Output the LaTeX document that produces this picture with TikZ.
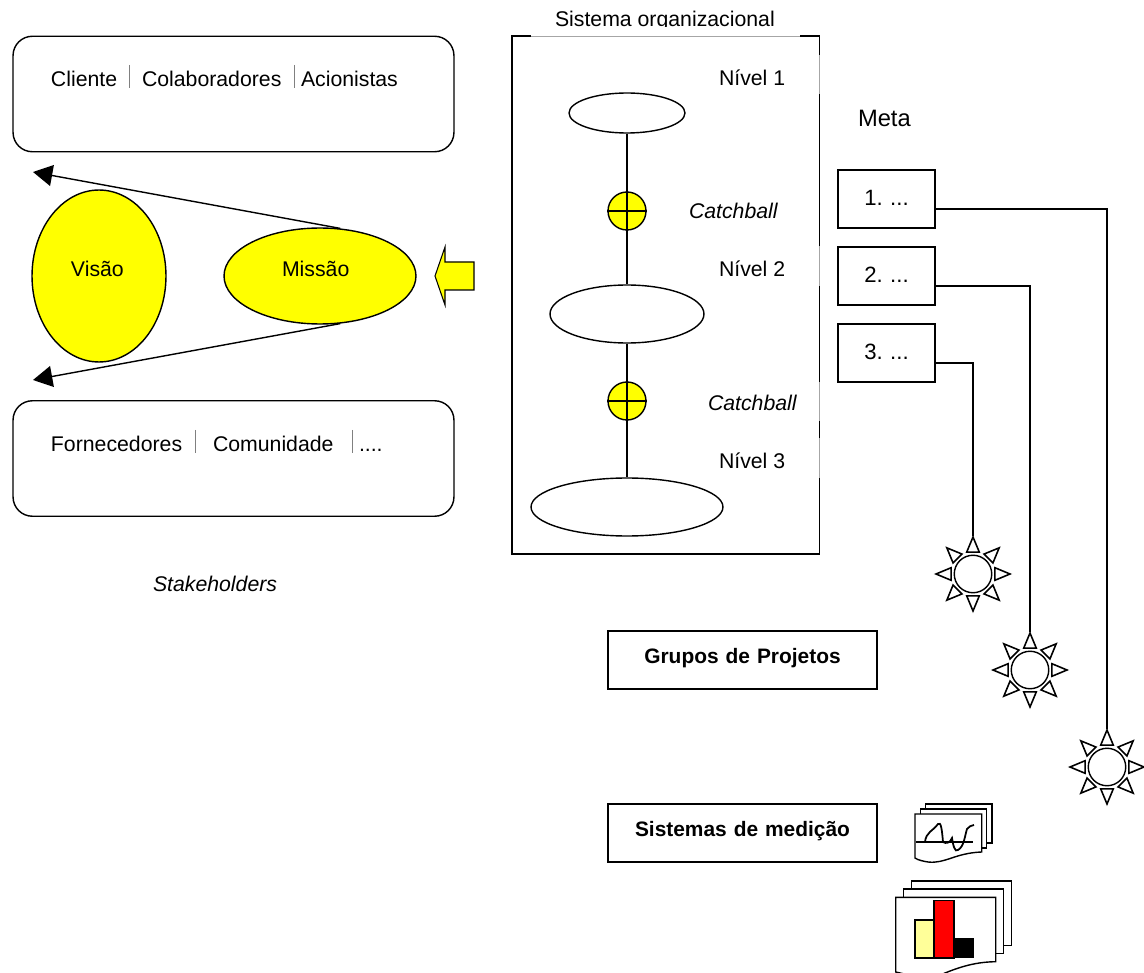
\documentclass[tikz,border=0pt]{standalone}
\usepackage{fontspec}
\setmainfont{Liberation Sans}
\usepackage{tikz}
\usetikzlibrary{arrows.meta,shapes.geometric}

\definecolor{sunyellow}{RGB}{255,255,0}
\definecolor{barred}{RGB}{255,0,0}
\definecolor{barpale}{RGB}{255,255,153}

\tikzset{
  lbl/.style={font=\fontsize{12.1}{14}\selectfont, inner sep=0pt, anchor=base west, xshift=-0.4pt, yshift=-0.15pt},
  lblit/.style={lbl, font=\fontsize{12.1}{14}\selectfont\itshape},
  stakebox/.style={draw, rectangle, rounded corners=11pt, minimum width=8.82cm, minimum height=2.31cm, inner sep=0pt},
  levelell/.style={draw, fill=white, ellipse, inner sep=0pt},
  yellowell/.style={draw, fill=sunyellow, ellipse, inner sep=0pt},
  metabox/.style={draw, rectangle, inner sep=0pt, text width=1.94cm, align=center, text height=19.9pt, text depth=13pt,
    font=\fontsize{12.6}{14}\selectfont},
  groupbox/.style={draw, rectangle, inner sep=0pt, text width=5.38cm, align=center, text height=18.3pt, text depth=14.5pt,
    font=\fontsize{11.9}{14}\selectfont\bfseries},
  sepline/.style={gray, line width=0.5pt},
  bigtip/.style={-{Triangle[length=11pt,width=12pt]}},
}

\begin{document}
\frenchspacing
\begin{tikzpicture}[x=0.02cm, y=-0.02cm, line width=0.8pt]
  \path[use as bounding box, clip] (0,0) rectangle (1144,973);

  % stakeholders
  \node[stakebox] (stakeTop) at (233.5,94) {};
  \node[stakebox] (stakeBot) at (233.5,458.5) {};
  \node[lbl] (cliente) at (51,86) {Cliente};
  \node[lbl] (colab) at (142,86) {Colaboradores};
  \node[lbl] (acion) at (301,86) {Acionistas};
  \node[lbl] (fornec) at (51,451) {Fornecedores};
  \node[lbl] (comun) at (213,451) {Comunidade};
  \node[lbl] (etc) at (359,451) {....};
  \foreach \sx/\sy in {129.5/65,294/65,195/430,352/430} {
    \draw[sepline] (\sx,\sy) -- (\sx,\sy+23);
  }
  \node[lblit] (stake) at (153,591) {Stakeholders};

  % vision and mission
  \node[yellowell, minimum width=2.68cm, minimum height=3.44cm] (visao) at (99,276) {};
  \node[yellowell, minimum width=3.84cm, minimum height=1.92cm] (missao) at (320,276) {};
  \node[lbl] (visaoLbl) at (71,276.5) {Visão};
  \node[lbl] (missaoLbl) at (282,276.5) {Missão};
  \coordinate (tipTop) at (33,172);
  \coordinate (tipBot) at (33,380);
  \draw[bigtip] (missao.67) -- (tipTop);
  \draw[bigtip] (missao.-67) -- (tipBot);
  \draw[fill=sunyellow, line width=0.6pt] (474,262) -- (445,262) -- (445,247) -- (435,276)
    -- (445,305) -- (445,290) -- (474,290) -- cycle;

  % system frame
  \node[lbl] (sistema) at (555,26.5) {Sistema organizacional};
  \fill[white] (540,27) rectangle (800,35);
  \node[draw, rectangle, inner sep=0pt, minimum width=6.15cm, minimum height=10.36cm] (frame) at (665.75,295) {};
  \draw[white, line width=1.2pt] (531,36) -- (800,36);
  \draw[gray!70, line width=0.4pt] (531,36) -- (800,36);
  % gaps left in the right edge
  \foreach \ya/\yb in {55/94,246/286,382/421,438/478} {
    \draw[white, line width=1.2pt] (819.5,\ya) -- (819.5,\yb);
    \draw[gray!70, line width=0.4pt] (819.5,\ya) -- (819.5,\yb);
  }

  % levels and catchball
  \node[levelell, minimum width=2.32cm, minimum height=0.8cm] (nivelA) at (627,113) {};
  \node[levelell, minimum width=3.08cm, minimum height=1.16cm] (nivelB) at (627,314) {};
  \node[levelell, minimum width=3.84cm, minimum height=1.16cm] (nivelC) at (627,507) {};
  \draw (nivelA) -- (nivelB);
  \draw (nivelB) -- (nivelC);
  \foreach \name/\cy in {ballA/211,ballB/401} {
    \node[draw, fill=sunyellow, circle, inner sep=0pt, minimum size=0.76cm] (\name) at (627,\cy) {};
    \draw (\name.north) -- (\name.south);
    \draw (\name.west) -- (\name.east);
  }
  \node[lbl] (lblA) at (719,85) {Nível 1};
  \node[lbl] (lblB) at (719,276) {Nível 2};
  \node[lbl] (lblC) at (719,468) {Nível 3};
  \node[lblit] (catchA) at (689,218) {Catchball};
  \node[lblit] (catchB) at (708,410.5) {Catchball};

  % goals
  \node[lbl, font=\fontsize{13.5}{16}\selectfont] (meta) at (858,126) {Meta};
  \node[metabox] (metaA) at (886.5,199) {1. ...};
  \node[metabox] (metaB) at (886.5,276) {2. ...};
  \node[metabox] (metaC) at (886.5,353) {3. ...};
  \coordinate (metaAout) at (935,209);
  \coordinate (metaBout) at (935,286);
  \coordinate (metaCout) at (935,363);

  % project suns
  \foreach \name/\sx/\sy in {sunC/973/574,sunB/1030/670,sunA/1107/767} {
    \node[draw, circle, inner sep=0pt, minimum size=0.75cm] (\name) at (\sx,\sy) {};
    \coordinate (\name top) at ([shift={(\sx,\sy)}]-90:38);
    \foreach \a in {0,45,...,315} {
      \draw[line width=0.9pt, line join=miter] ([shift={(\sx,\sy)}]\a:37) -- ([shift={(\sx,\sy)}]\a+16:22.8)
        -- ([shift={(\sx,\sy)}]\a-16:22.8) -- cycle;
    }
  }
  \draw (metaAout) -| (sunAtop);
  \draw (metaBout) -| (sunBtop);
  \draw (metaCout) -| (sunCtop);

  % group boxes
  \node[groupbox] (grupos) at (742.5,660) {Grupos de Projetos};
  \node[groupbox] (medicao) at (742.5,833) {Sistemas de medição};

  % small chart sheets
  \foreach \ox/\oy in {925.7/804,920.3/809} {
    \draw[fill=white] (\ox,\oy) rectangle (\ox+66.3,\oy+39);
  }
  \draw[fill=white] (915,814) -- (981.7,814) -- (981.7,852)
    .. controls (955,853) and (945,864) .. (928,862)
    .. controls (922,861) and (918,860) .. (915,858) -- cycle;
  \draw (916,842) -- (973,842);
  \draw[line width=1pt] (925,842) .. controls (926,832) and (933,831) .. (938,824)
    .. controls (941,821) and (942,830) .. (943,842)
    .. controls (946,844) and (950,843) .. (952,838)
    .. controls (953,845) and (955,853) .. (958,850)
    .. controls (964,847) and (965,835) .. (967,829)
    .. controls (969,826) and (971,826) .. (974,825);

  % big chart sheets
  \foreach \ox/\oy in {911.7/881,903.7/889} {
    \draw[fill=white] (\ox,\oy) rectangle (\ox+100,\oy+64.7);
  }
  \draw[fill=white] (895.7,897.3) -- (995.7,897.3) -- (995.7,961.7)
    .. controls (975,962) and (960,967) .. (945,973) -- (930,980) -- (895.7,972) -- cycle;
  \draw[fill=barpale] (915,920) rectangle (934,958);
  \draw[fill=barred] (934,900.7) rectangle (954,958);
  \fill[black] (954,938) rectangle (974,958);
\end{tikzpicture}
\end{document}
